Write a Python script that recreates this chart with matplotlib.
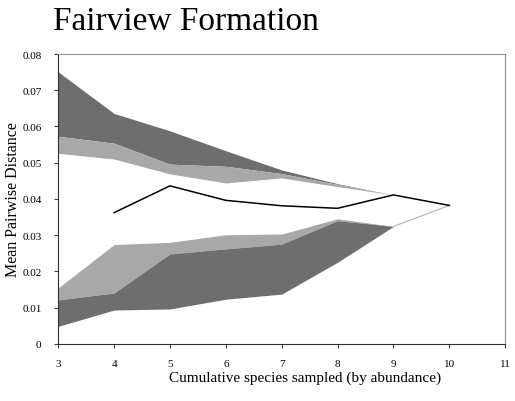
import matplotlib.pyplot as plt

# cumulative number of species sampled
species = [3, 4, 5, 6, 7, 8, 9, 10]

# upper envelope: outer limit, inner limit, edge of white region
upper_outer = [0.0751, 0.0636, 0.0588, 0.0533, 0.0480, 0.0442, 0.0411, 0.0382]
upper_inner = [0.0573, 0.0554, 0.0496, 0.0490, 0.0470, 0.0440, 0.0411, 0.0382]
upper_edge = [0.0526, 0.0510, 0.0469, 0.0444, 0.0458, 0.0434, 0.0411, 0.0382]

# lower envelope: edge of white region, inner limit, outer limit
lower_edge = [0.0154, 0.0274, 0.0280, 0.0301, 0.0303, 0.0345, 0.0324, 0.0382]
lower_inner = [0.0121, 0.0140, 0.0248, 0.0262, 0.0275, 0.0340, 0.0324, 0.0382]
lower_outer = [0.0048, 0.0093, 0.0096, 0.0123, 0.0137, 0.0225, 0.0324, 0.0382]

# observed mean pairwise distance
mean_x = [4, 5, 6, 7, 8, 9, 10]
mean_y = [0.0362, 0.0436, 0.0396, 0.0381, 0.0374, 0.0411, 0.0382]

dark = '#6e6e6e'
light = '#a8a8a8'

plt.rcParams['font.family'] = 'Liberation Serif'

fig = plt.figure(figsize=(5.15, 4.02), dpi=100)
ax = fig.add_axes([0.113, 0.1425, 0.868, 0.7205])

ax.fill_between(species, upper_inner, upper_outer, color=dark, lw=0)
ax.fill_between(species, upper_edge, upper_inner, color=light, lw=0)
ax.fill_between(species, lower_inner, lower_edge, color=light, lw=0)
ax.fill_between(species, lower_outer, lower_inner, color=dark, lw=0)
ax.plot(species[-2:], lower_edge[-2:], color='#b0b0b0', lw=0.8)
ax.plot(mean_x, mean_y, color='black', lw=1.1)

ax.set_xlim(3, 11)
ax.set_ylim(0, 0.08)
ax.set_xticks(range(3, 12))
ax.set_yticks([0, 0.01, 0.02, 0.03, 0.04, 0.05, 0.06, 0.07, 0.08])
ax.set_yticklabels(['0', '0.01', '0.02', '0.03', '0.04', '0.05', '0.06', '0.07', '0.08'])
ax.tick_params(labelsize=8, length=3, width=0.8, color='#404040')
ax.tick_params(axis='y', pad=9)
ax.tick_params(axis='x', pad=8)

for side in ['left', 'bottom']:
    ax.spines[side].set_color('#303030')
for side in ['top', 'right']:
    ax.spines[side].set_color('#909090')

ax.set_xlabel('Cumulative species sampled (by abundance)', fontsize=11, labelpad=2, x=0.553)
ax.set_ylabel('Mean Pairwise Distance', fontsize=11.5, labelpad=1)

fig.text(0.103, 0.925, 'Fairview Formation', fontsize=24, ha='left', va='baseline')

fig.savefig('out.png', dpi=100)
